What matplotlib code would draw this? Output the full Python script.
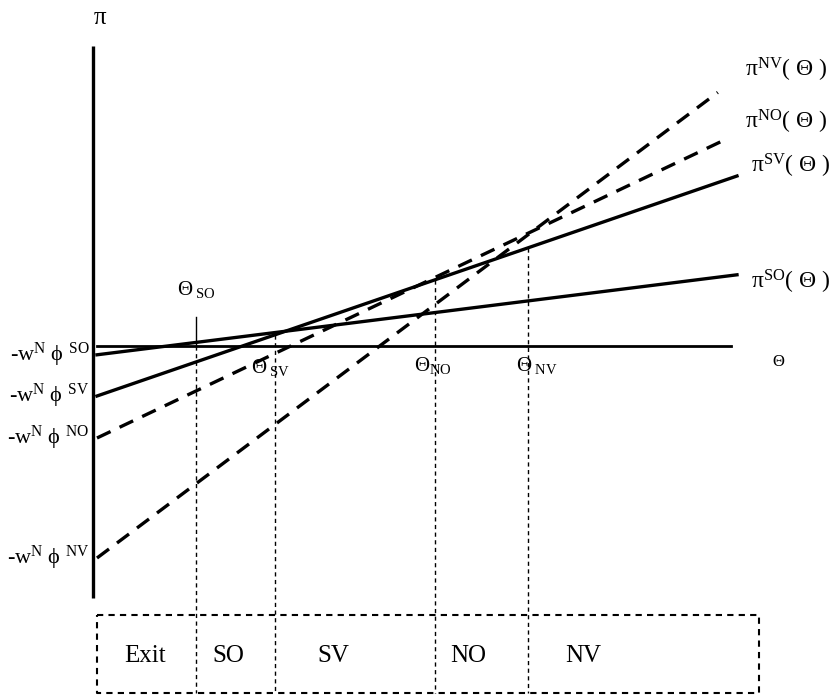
import matplotlib
matplotlib.use("Agg")
import matplotlib.pyplot as plt
import numpy as np

plt.rcParams["font.family"] = ["Liberation Serif", "DejaVu Serif"]
plt.rcParams["mathtext.fontset"] = "custom"
plt.rcParams["mathtext.rm"] = "Liberation Serif"
plt.rcParams["mathtext.it"] = "Liberation Serif:italic"
plt.rcParams["mathtext.bf"] = "Liberation Serif:bold"

# profit lines pi(theta) = intercept + slope * theta
names = ["SO", "SV", "NO", "NV"]
intercepts = [-0.22, -1.25, -2.3, -5.3]
slopes = [0.2, 0.55, 0.76, 1.2]
theta_end = [10.0, 10.0, 9.85, 9.7]
dashed = [False, False, True, True]

# thresholds and where their guide lines start
thresholds = [1.55, 2.78, 5.28, 6.73]
guide_top = [0.72, 0.28, 1.65, 2.45]
regions = ["Exit", "SO", "SV", "NO", "NV"]
region_x = [0.75, 2.05, 3.7, 5.8, 7.6]

box_left, box_right = 0.0, 10.35
box_top, box_bottom = -6.72, -8.68

fig = plt.figure(figsize=(8.36, 6.98), dpi=100)
ax = fig.add_axes([0, 0, 1, 1])
ax.set_xlim(-97 / 64, (836 - 97) / 64)
ax.set_ylim((346 - 698) / 40, 346 / 40)
ax.axis("off")

# axes of the diagram
ax.plot([-0.06, -0.06], [7.5, -6.3], color="black", lw=2.4, solid_capstyle="butt")
ax.plot([0.0, 9.9], [0, 0], color="black", lw=2.0)

for name, a, b, te, d in zip(names, intercepts, slopes, theta_end, dashed):
    t = np.array([0.0, te])
    if d:
        ax.plot(t, a + b * t, color="black", lw=2.4, dashes=[4.5, 3])
    else:
        ax.plot(t, a + b * t, color="black", lw=2.4)

# vertical guide lines through the thresholds
for th, top in zip(thresholds, guide_top):
    if th < 2:
        ax.plot([th, th], [top, 0], color="black", lw=1.0)
        ax.plot([th, th], [0, box_bottom], color="black", lw=1.0, dashes=[3, 2.5])
    else:
        ax.plot([th, th], [top, box_bottom], color="black", lw=1.0, dashes=[3, 2.5])

# region box
bx = [box_left, box_right, box_right, box_left, box_left]
by = [box_top, box_top, box_bottom, box_bottom, box_top]
ax.plot(bx, by, color="black", lw=1.5, dashes=[3, 2.5])
for lab, x in zip(regions, region_x):
    ax.text(x, -7.75, lab, ha="center", va="center", fontsize=18)

# left intercept labels
for name, a in zip(names, intercepts):
    ax.text(-0.12, a, r"-w$^{\mathrm{N}}$ ϕ $^{\mathrm{%s}}$" % name,
            ha="right", va="center", fontsize=16)

# right line labels
label_y = {"NV": 6.9, "NO": 5.6, "SV": 4.5, "SO": 1.6}
label_x = {"NV": 10.12, "NO": 10.12, "SV": 10.22, "SO": 10.22}
for name in names:
    ax.text(label_x[name], label_y[name], r"π$^{\mathrm{%s}}$( Θ )" % name,
            ha="left", va="center", fontsize=17)

ax.text(0.05, 8.2, "π", ha="center", va="center", fontsize=18)
ax.text(10.65, -0.4, "Θ", ha="center", va="center", fontsize=12)

# threshold labels
ax.text(1.25, 1.4, r"Θ$_{\ \mathrm{SO}}$", ha="left", va="center", fontsize=15)
ax.text(2.4, -0.55, r"Θ$_{\ \mathrm{SV}}$", ha="left", va="center", fontsize=15)
ax.text(4.95, -0.5, r"Θ$_{\mathrm{NO}}$", ha="left", va="center", fontsize=15)
ax.text(6.55, -0.5, r"Θ$_{\ \mathrm{NV}}$", ha="left", va="center", fontsize=15)

fig.savefig("out.png", dpi=100)
